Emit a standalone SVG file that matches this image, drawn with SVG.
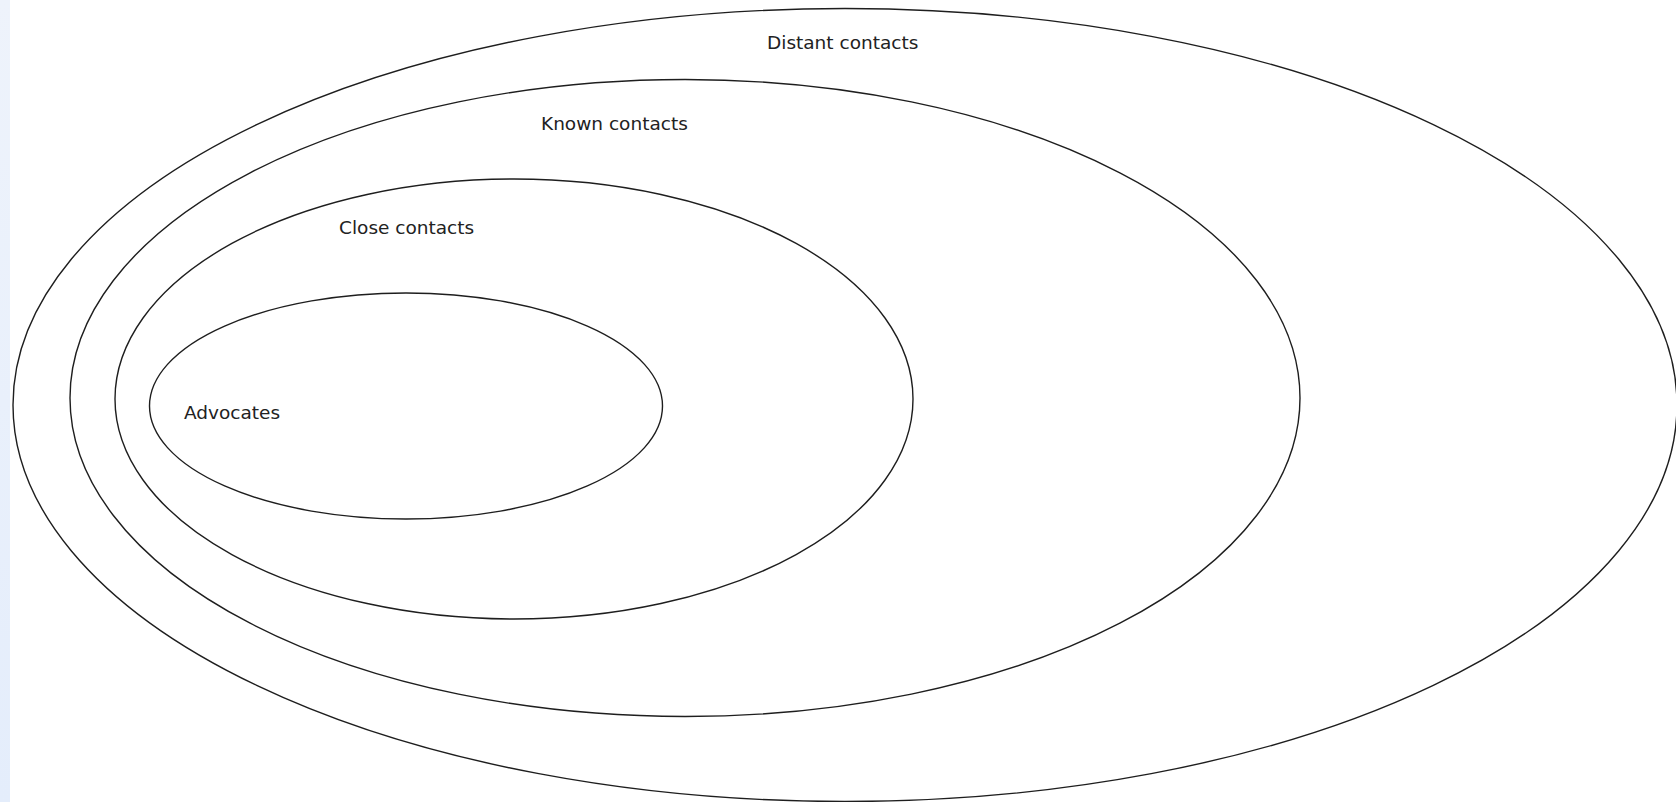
<svg xmlns="http://www.w3.org/2000/svg" width="1676" height="802" viewBox="0 0 1676 802">
<defs>
<style>
.ring{fill:none;stroke:#1e1e1e;stroke-width:1.4}
.lbl{font-family:"DejaVu Sans",Verdana,sans-serif;font-size:18.5px;fill:#222}
</style>
<linearGradient id="bg" x1="0" y1="0" x2="0" y2="1">
<stop offset="0" stop-color="#eef3fb"/>
<stop offset="1" stop-color="#e4edfb"/>
</linearGradient>
</defs>
<rect x="0" y="0" width="1676" height="802" fill="#ffffff"/>
<rect x="0" y="0" width="10" height="802" fill="url(#bg)"/>
<g id="distant">
<ellipse class="ring" cx="845" cy="405" rx="832" ry="396.5"/>
<text class="lbl" x="767" y="49">Distant contacts</text>
</g>
<g id="known">
<ellipse class="ring" cx="685" cy="398" rx="615" ry="318.5"/>
<text class="lbl" x="541" y="130">Known contacts</text>
</g>
<g id="close">
<ellipse class="ring" cx="514" cy="399" rx="399" ry="220"/>
<text class="lbl" x="339" y="234">Close contacts</text>
</g>
<g id="advocates">
<ellipse class="ring" cx="406" cy="406" rx="256.5" ry="113"/>
<text class="lbl" x="184" y="419">Advocates</text>
</g>
<g id="connectors"></g>
</svg>
